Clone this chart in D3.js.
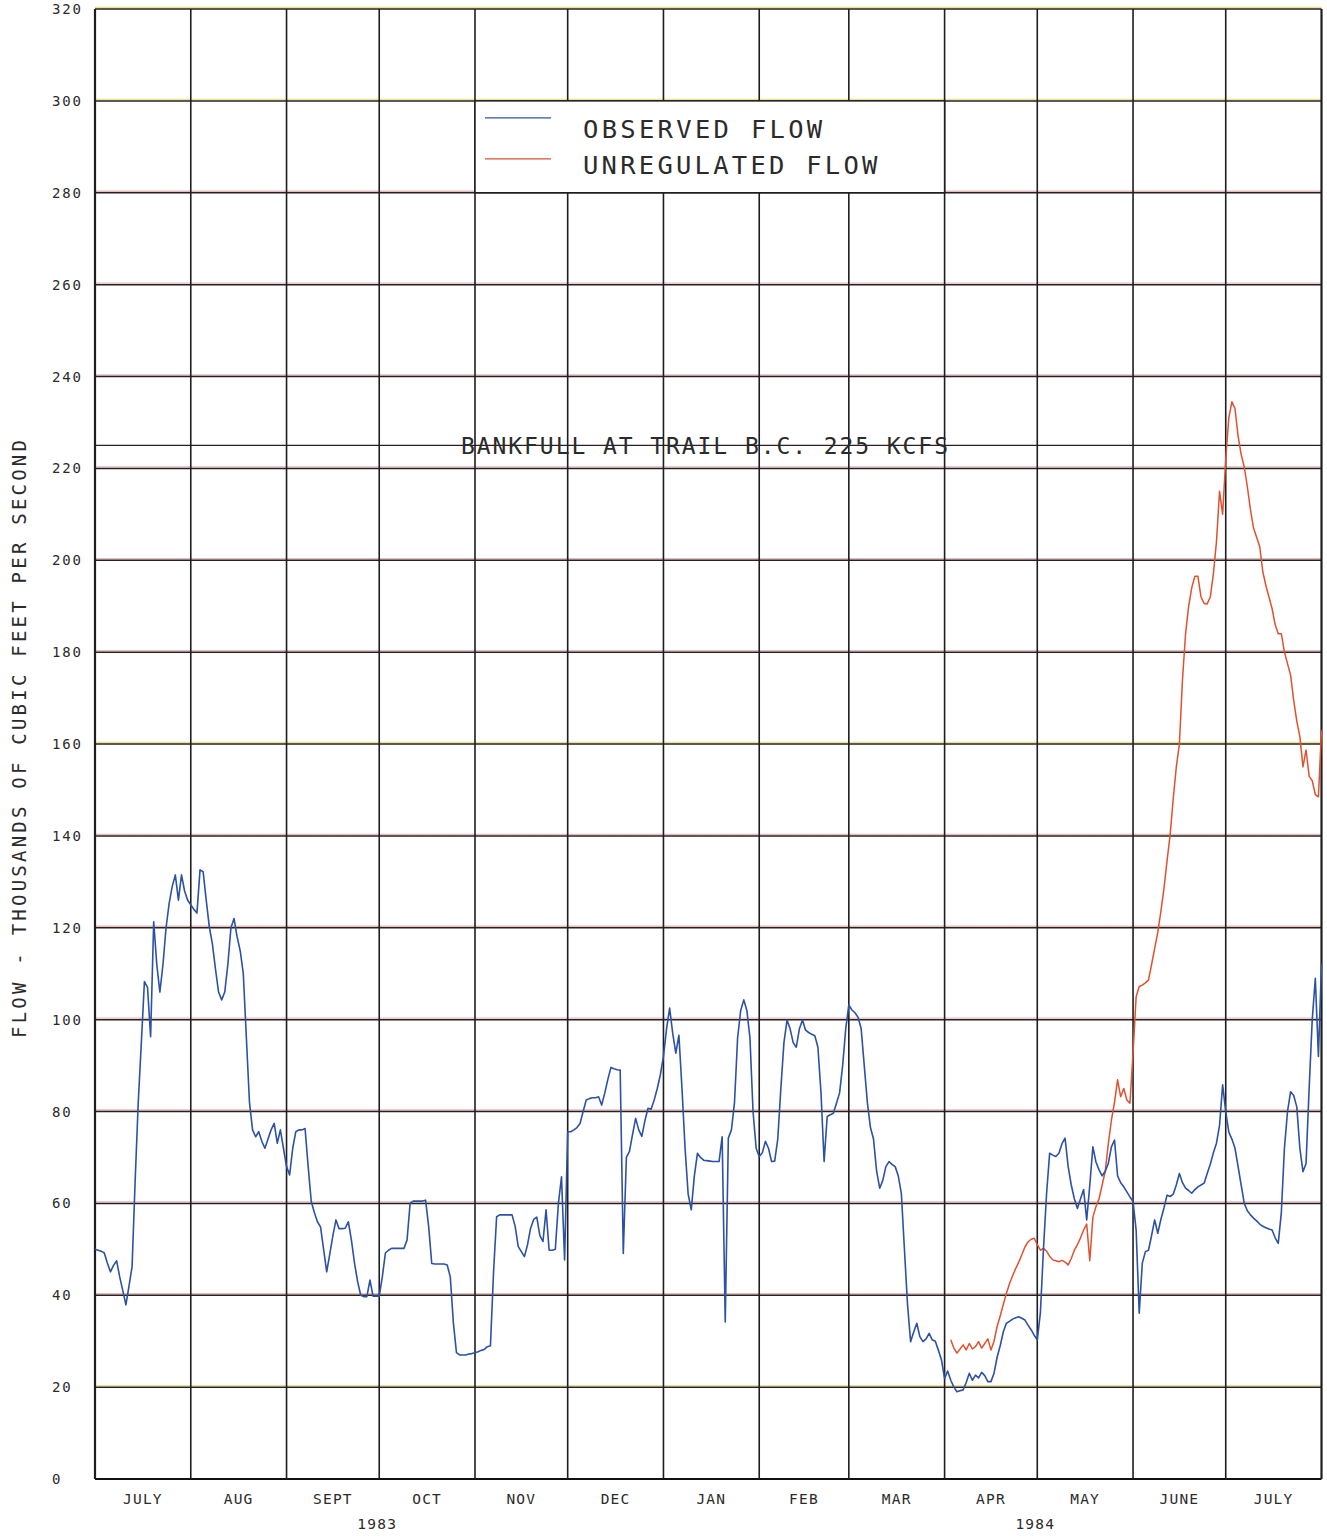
<!DOCTYPE html>
<html>
<head>
<meta charset="utf-8">
<script src="https://cdn.jsdelivr.net/npm/d3@7"></script>
<style>
  html, body { margin: 0; padding: 0; background: #fff; }
  svg { display: block; }
  text { font-family: "DejaVu Sans Mono", "Liberation Mono", monospace; fill: #2b2b2b; }
</style>
</head>
<body>
<div id="chart"></div>
<script>
// Observed flow at Trail B.C., daily, kcfs
const obsJul83 = [50, 49.8, 49.6, 49.2, 47, 45.1, 46.5, 47.5, 44, 41, 37.9, 42, 46.2, 65, 82, 95, 108.3, 107, 96.3, 121.3, 112, 106, 112, 120, 125.3, 129, 131.5, 126, 131.5, 128, 126];
const obsAug83 = [125, 124, 123.2, 132.6, 132.2, 126, 120.2, 116.5, 111, 106, 104.3, 106, 112, 120, 122, 118, 115, 110, 96, 82, 76, 74.5, 75.6, 73.5, 72, 74, 76, 77.4, 73.1, 76, 72];
const obsSep83 = [68, 66.2, 72, 75.6, 76, 76, 76.3, 68, 60.4, 58, 56, 54.9, 50, 45.1, 49, 53, 56.4, 54.5, 54.5, 54.6, 56, 52, 47, 43, 40, 39.7, 39.7, 43.3, 39.8, 39.8];
const obsOct83 = [39.8, 44, 49.2, 49.8, 50.2, 50.2, 50.2, 50.2, 50.2, 52, 60, 60.5, 60.5, 60.5, 60.5, 60.7, 55, 46.9, 46.8, 46.8, 46.8, 46.8, 46.6, 44, 34, 27.5, 27, 27, 27, 27.2, 27.3];
const obsNov83 = [27.5, 27.7, 28, 28.2, 28.8, 29, 45, 57.1, 57.5, 57.5, 57.5, 57.5, 57.5, 55, 50.6, 49.5, 48.4, 51, 54.6, 56.5, 57, 53, 51.7, 58.6, 49.8, 49.8, 50, 60, 65.8, 47.7];
const obsDec83 = [75.6, 75.6, 76, 76.5, 77.4, 80, 82.5, 82.8, 83, 83, 83.2, 81.4, 84, 87, 89.6, 89.3, 89.1, 89, 49.1, 70, 71.3, 75, 78.5, 76, 74.6, 78, 80.7, 80.5, 82.5, 85, 88];
const obsJan84 = [92, 98, 102.5, 97, 92.7, 96.6, 85, 72, 62, 58.6, 66, 70.9, 70, 69.4, 69.3, 69.2, 69.1, 69.1, 69.1, 74.5, 34.2, 74.2, 76, 82, 96, 102, 104.3, 102, 96, 80, 72];
const obsFeb84 = [70.2, 71, 73.5, 72, 69.1, 69.2, 74, 85, 95, 99.9, 98, 95, 94, 98, 99.9, 97.7, 97.2, 96.8, 96.5, 94, 84, 69.1, 78.9, 79.3, 79.6, 81.8, 84, 90, 98];
const obsMar84 = [103.2, 102.1, 101.5, 100.5, 98, 90, 82, 76.5, 74, 67, 63.3, 65, 68, 69.1, 68.5, 68, 66, 62.2, 50, 38, 29.9, 32, 33.9, 31, 29.9, 30.5, 31.7, 30.3, 30, 28, 25.9];
const obsApr84 = [21.9, 23.5, 21.5, 20, 19, 19.2, 19.4, 21, 23, 21.5, 22.6, 22, 23.2, 22.5, 21.2, 21.2, 23, 26.5, 29, 32, 33.9, 34.3, 34.8, 35.1, 35.3, 35, 34.6, 33.5, 32.5, 31.3];
const obsMay84 = [30.3, 36.1, 50, 62, 70.9, 70.5, 70.2, 70.9, 73, 74.2, 68, 64, 61, 58.9, 61, 63, 56.4, 64, 72.3, 69, 67.3, 66, 67, 68.7, 72.3, 73.8, 66, 64.5, 63.6, 62.5, 61.4];
const obsJun84 = [60.4, 54.2, 36.1, 47, 49.5, 49.8, 53, 56.4, 53.5, 56.5, 59, 61.8, 61.5, 62, 64, 66.5, 64.5, 63.3, 62.8, 62.2, 63, 63.6, 64, 64.4, 66.5, 68.5, 71, 73.1, 77, 85.8];
const obsJul84 = [80, 75.5, 74, 72, 68, 64, 60, 58.4, 57.5, 56.8, 56.2, 55.5, 55, 54.7, 54.4, 54.2, 52.5, 51.3, 58, 72, 80, 84.3, 83.5, 81, 72, 66.9, 68.7, 85, 100, 109, 92];
const obsAug84 = [112];

// Unregulated flow, daily from 3 April 1984
const unregApr84 = [30.3, 28.5, 27.4, 28.3, 29.2, 28.1, 29.5, 28.3, 28.8, 29.9, 28.5, 29.5, 30.5, 28.1, 30, 33.2, 35.5, 38, 40.4, 42.5, 44.2, 45.8, 47.2, 48.8, 50.5, 51.6, 52.2, 52.4];
const unregMay84 = [51, 49.8, 50.2, 49.6, 48.5, 47.7, 47.5, 47.3, 47.6, 47.2, 46.6, 48, 49.8, 51, 52.5, 54.2, 55.5, 47.5, 57, 59.3, 61, 64, 67, 73, 78.1, 82, 86.9, 83.2, 85, 82.5, 81.8];
const unregJun84 = [92.7, 105, 107.2, 107.5, 108, 108.6, 112, 115.5, 119, 123.5, 128.5, 134.5, 140.2, 148, 155, 160, 174, 184, 190, 194, 196.5, 196.5, 192, 190.6, 190.5, 192, 197, 204, 215, 210];
const unregJul84 = [222, 231, 234.5, 233, 227, 223, 220.3, 216, 211, 207, 205, 203, 197.5, 194.5, 192, 189.5, 186, 184, 184, 180, 177.5, 175, 169.5, 165, 161.6, 155, 158.7, 153, 152, 149, 148.5];
const unregAug84 = [163];

const monthLabels = ['JULY', 'AUG', 'SEPT', 'OCT', 'NOV', 'DEC', 'JAN', 'FEB', 'MAR', 'APR', 'MAY', 'JUNE', 'JULY'];
const monthStarts = ['1983-07-01', '1983-08-01', '1983-09-01', '1983-10-01', '1983-11-01', '1983-12-01',
  '1984-01-01', '1984-02-01', '1984-03-01', '1984-04-01', '1984-05-01', '1984-06-01', '1984-07-01', '1984-08-01'];
const yearLabels = [['1983', '1983-10-01'], ['1984', '1984-05-01']];
const yTicks = d3.range(0, 321, 20);
const bankfull = 225;
const bankfullLabel = 'BANKFULL AT TRAIL B.C. 225 KCFS';
const legendLabels = ['OBSERVED FLOW', 'UNREGULATED FLOW'];

const observedParts = [
  ['1983-07-01', obsJul83], ['1983-08-01', obsAug83], ['1983-09-01', obsSep83], ['1983-10-01', obsOct83],
  ['1983-11-01', obsNov83], ['1983-12-01', obsDec83], ['1984-01-01', obsJan84], ['1984-02-01', obsFeb84],
  ['1984-03-01', obsMar84], ['1984-04-01', obsApr84], ['1984-05-01', obsMay84], ['1984-06-01', obsJun84],
  ['1984-07-01', obsJul84], ['1984-08-01', obsAug84]
];
const unregParts = [
  ['1984-04-03', unregApr84], ['1984-05-01', unregMay84], ['1984-06-01', unregJun84],
  ['1984-07-01', unregJul84], ['1984-08-01', unregAug84]
];

const BLUE = '#2d52a3';
const RED = '#e0512f';
const GRID = '#1e1e1e';

const parse = d3.timeParse('%Y-%m-%d');

function toPoints(parts) {
  return parts.flatMap(([start, vals]) => {
    const d0 = parse(start);
    return vals.map((v, i) => ({ date: d3.timeDay.offset(d0, i), value: v }));
  });
}

const observed = toPoints(observedParts);
const unregulated = toPoints(unregParts);
const starts = monthStarts.map(parse);

const W = 1327, H = 1536;
const plotLeft = 95, plotRight = 1321.5, plotTop = 9, plotBottom = 1479;

const x = d3.scaleTime().domain([starts[0], starts[starts.length - 1]]).range([plotLeft, plotRight]);
const y = d3.scaleLinear().domain([0, 320]).range([plotBottom, plotTop]);

const svg = d3.select('#chart').append('svg')
  .attr('width', W).attr('height', H);

// Horizontal grid, with the faint coloured fringe of the plotter pens
const tint = v => (v === 20 || v === 160 || v === 300 || v === 320) ? '#dede5a' : '#d9a0a0';
svg.append('g').selectAll('line')
  .data(yTicks.filter(v => v > 0))
  .enter().append('line')
  .attr('x1', plotLeft).attr('x2', plotRight)
  .attr('y1', d => y(d) - 1.5).attr('y2', d => y(d) - 1.5)
  .attr('stroke', d => tint(d)).attr('stroke-width', 1.4).attr('opacity', 0.7);

svg.append('g').selectAll('line')
  .data(yTicks)
  .enter().append('line')
  .attr('x1', plotLeft).attr('x2', plotRight)
  .attr('y1', d => y(d)).attr('y2', d => y(d))
  .attr('stroke', d => d === 0 ? '#111' : '#2a2020')
  .attr('stroke-width', d => d === 0 ? 2.2 : 1.5);

// Bankfull line
svg.append('line')
  .attr('x1', plotLeft).attr('x2', plotRight)
  .attr('y1', y(bankfull)).attr('y2', y(bankfull))
  .attr('stroke', '#2a2020').attr('stroke-width', 1.4);

// Vertical month grid
svg.append('g').selectAll('line')
  .data(starts)
  .enter().append('line')
  .attr('x1', d => x(d)).attr('x2', d => x(d))
  .attr('y1', plotTop).attr('y2', plotBottom)
  .attr('stroke', GRID)
  .attr('stroke-width', (d, i) => (i === 0 || i === starts.length - 1) ? 2.2 : 1.6);

// Y tick labels (left aligned like the plotter output)
svg.append('g').selectAll('text')
  .data(yTicks)
  .enter().append('text')
  .attr('x', 52).attr('y', d => y(d) + 5)
  .attr('font-size', 14).attr('letter-spacing', 1.8)
  .text(d => d);

// Month labels, centred in each month
svg.append('g').selectAll('text')
  .data(monthLabels)
  .enter().append('text')
  .attr('x', (d, i) => (x(starts[i]) + x(starts[i + 1])) / 2)
  .attr('y', 1504)
  .attr('text-anchor', 'middle')
  .attr('font-size', 14.5).attr('letter-spacing', 1.2)
  .text(d => d);

svg.append('g').selectAll('text')
  .data(yearLabels)
  .enter().append('text')
  .attr('x', d => x(parse(d[1])) - 2)
  .attr('y', 1529)
  .attr('text-anchor', 'middle')
  .attr('font-size', 14.5).attr('letter-spacing', 1.2)
  .text(d => d[0]);

// Y axis title
svg.append('text')
  .attr('transform', 'translate(26,739) rotate(-90)')
  .attr('text-anchor', 'middle')
  .attr('font-size', 19)
  .attr('textLength', 598).attr('lengthAdjust', 'spacing')
  .text('FLOW - THOUSANDS OF CUBIC FEET PER SECOND');

// Bankfull label
svg.append('text')
  .attr('x', 461).attr('y', y(bankfull) + 8.5)
  .attr('font-size', 23)
  .attr('textLength', 487).attr('lengthAdjust', 'spacing')
  .text(bankfullLabel);

// Data lines
const line = d3.line()
  .x(d => x(d.date))
  .y(d => y(d.value));

svg.append('path')
  .datum(unregulated)
  .attr('fill', 'none')
  .attr('stroke', RED)
  .attr('stroke-width', 1.5)
  .attr('stroke-linejoin', 'round')
  .attr('d', line);

svg.append('path')
  .datum(observed)
  .attr('fill', 'none')
  .attr('stroke', BLUE)
  .attr('stroke-width', 1.6)
  .attr('stroke-linejoin', 'round')
  .attr('d', line);

// Legend box, from the NOV to the APR grid line, between 300 and 280
const lx0 = x(parse('1983-11-01')), lx1 = x(parse('1984-04-01'));
const ly0 = y(300), ly1 = y(280);
const legend = svg.append('g');
legend.append('rect')
  .attr('x', lx0).attr('y', ly0)
  .attr('width', lx1 - lx0).attr('height', ly1 - ly0)
  .attr('fill', '#fff')
  .attr('stroke', GRID).attr('stroke-width', 1.5);

const legendColors = [BLUE, RED];
const legendRows = [17, 58];
legendLabels.forEach((label, i) => {
  legend.append('line')
    .attr('x1', lx0 + 10).attr('x2', lx0 + 76)
    .attr('y1', ly0 + legendRows[i]).attr('y2', ly0 + legendRows[i])
    .attr('stroke', legendColors[i]).attr('stroke-width', 1.4);
  legend.append('text')
    .attr('x', lx0 + 108).attr('y', ly0 + 37 + i * 36.5)
    .attr('font-size', 25.5)
    .attr('textLength', label.length * 18.4).attr('lengthAdjust', 'spacing')
    .text(label);
});
</script>
</body>
</html>
